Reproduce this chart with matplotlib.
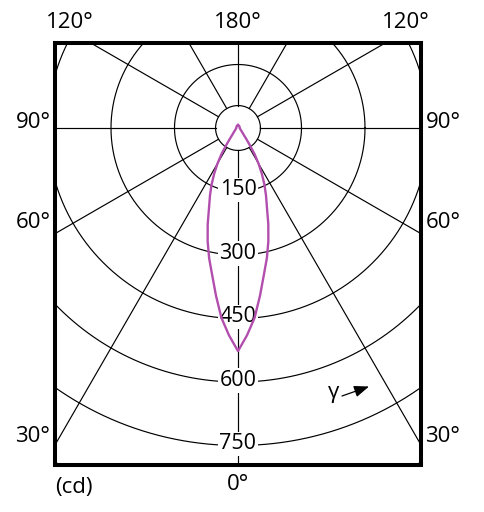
import numpy as np
import matplotlib
matplotlib.use('Agg')
import matplotlib.pyplot as plt

# ---- data ----
gamma_deg = [0, 2.5, 5, 7.5, 10, 12.5, 15, 17.5, 20, 22.5, 25, 27.5, 30, 32.5,
             35, 37.5, 40, 45, 50, 60, 70, 80, 90, 120, 150, 180]
intensity_cd = [527, 490, 450, 399, 352, 315, 277, 238, 200, 173, 148, 122, 97, 72,
                45, 30, 21, 14, 10, 7, 5, 4.5, 4, 4.5, 5.5, 7]
ring_values = [150, 300, 450, 600, 750, 900]
ring_labels = ['150', '300', '450', '600', '750']
spoke_angles = [0, 30, 60, 90, 120, 150, 180, 210, 240, 270, 300, 330]
inner_radius = 53
side_labels = ['90°', '60°', '30°']
side_label_y_px = [122, 223, 437]
top_labels = ['120°', '180°', '120°']
top_label_x_px = [70, 238, 406]

W, H = 485, 512
fig = plt.figure(figsize=(W / 100, H / 100), dpi=100)
FONT = 'Open Sans'

# frame in pixels
L, R, T, B = 55, 421, 43, 465
cx, cy = 238, 128
s = 750 / 317.5  # cd per pixel

ax = fig.add_axes([L / W, 1 - B / H, (R - L) / W, (B - T) / H])
ax.set_xlim((L - cx) * s, (R - cx) * s)
ax.set_ylim(-(B - cy) * s, (cy - T) * s)
ax.set_xticks([]); ax.set_yticks([])
for sp in ax.spines.values():
    sp.set_linewidth(2.9)
    sp.set_color('black')
    sp.set_zorder(10)

grid_kw = dict(color='black', lw=0.85, zorder=1)
t = np.linspace(0, 2 * np.pi, 721)
for rv in [inner_radius] + ring_values:
    ax.plot(rv * np.cos(t), rv * np.sin(t), **grid_kw)
for a in spoke_angles:
    ar = np.deg2rad(a)
    ax.plot([inner_radius * np.sin(ar), 3000 * np.sin(ar)],
            [-inner_radius * np.cos(ar), -3000 * np.cos(ar)], **grid_kw)

# ring labels
for rv, lab in zip(ring_values, ring_labels):
    ax.text(0, -rv + 4, lab, ha='center', va='center', fontsize=15.5, family=FONT,
            zorder=3, bbox=dict(boxstyle='square,pad=0.08', fc='white', ec='none'))

# curve (mirror both halves)
g = np.deg2rad(np.array(gamma_deg))
r = np.array(intensity_cd)
gg = np.concatenate([-g[::-1], g[1:]])
rr = np.concatenate([r[::-1], r[1:]])
ax.plot(rr * np.sin(gg), -rr * np.cos(gg), color='#b24fae', lw=1.7, zorder=5,
        solid_joinstyle='round')

# gamma arrow
def d(px, py):
    return ((px - cx) * s, (cy - py) * s)
ax.annotate('', xy=d(369, 386.5), xytext=d(342, 396),
            arrowprops=dict(arrowstyle='-|>,head_length=0.9,head_width=0.35',
                            color='black', lw=0.9, shrinkA=0, shrinkB=0), zorder=6)
ax.text(*d(334, 393), 'γ', ha='center', va='center', fontsize=16, family=FONT, zorder=6)

# outer labels
def ft(px, py, txt, **kw):
    fig.text(px / W, 1 - py / H, txt, ha='center', va='center', fontsize=16,
             family=FONT, **kw)

for x, lab in zip(top_label_x_px, top_labels):
    ft(x, 23, lab)
for y, lab in zip(side_label_y_px, side_labels):
    ft(33, y, lab)
    ft(443, y, lab)
ft(238, 485, '0°')
ft(74, 487, '(cd)')

fig.savefig('out.png', dpi=100)
